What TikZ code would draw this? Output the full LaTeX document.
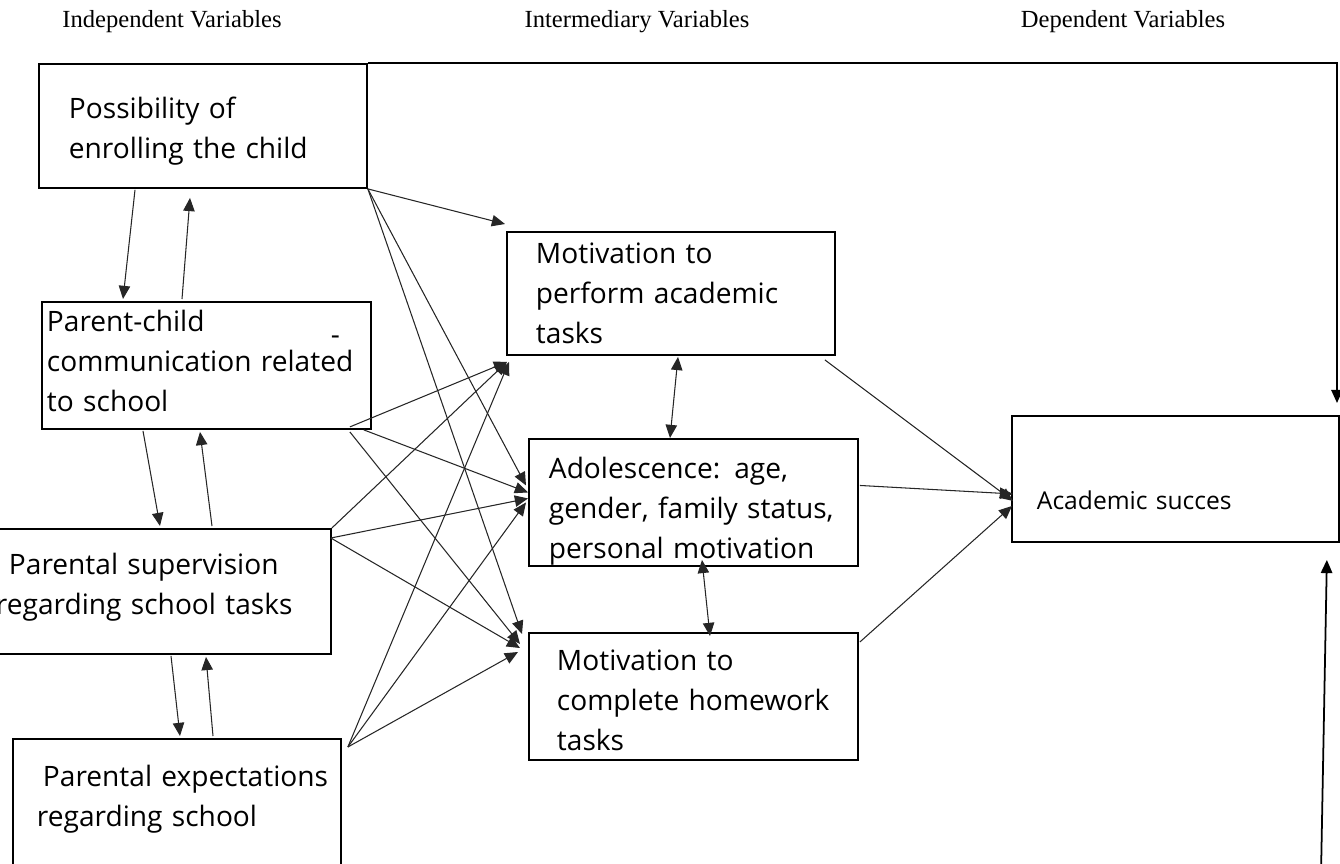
\documentclass[tikz,border=0pt]{standalone}
\usepackage{fontspec}
\setmainfont{Open Sans}
\newfontfamily\kopffont{Liberation Serif}
\usetikzlibrary{arrows.meta,calc}

\tikzset{
    kasten/.style={draw, line width=1.1pt, rectangle, anchor=north west, inner ysep=0pt,
        align=left, font=\fontsize{16pt}{22.76pt}\selectfont},
    titel/.style={font=\kopffont\fontsize{14pt}{16pt}\selectfont},
    pfeil/.style={-{Triangle[length=7.5pt,width=6.5pt]}, line width=0.6pt, black!85},
    doppel/.style={pfeil, {Triangle[length=7.5pt,width=6.5pt]}-{Triangle[length=7.5pt,width=6.5pt]}},
    rueck/.style={-{Triangle[length=7.5pt,width=6.5pt]}, line width=1pt}
}

\begin{document}
\begin{tikzpicture}[x=0.02cm, y=-0.02cm]
    \useasboundingbox (0,0) rectangle (1340,863);
    \path node[titel] (IV) at (172,22) {Independent Variables}
        node[titel] (MV) at (637,22) {Intermediary Variables}
        node[titel] (DV) at (1123,22) {Dependent Variables}
        node[kasten, text width=5.36cm, inner xsep=0.6cm, text height=1.1cm, text depth=1.38cm] (P) at (38,63)
            {Possibility of\\enrolling the child}
        node[kasten, text width=6.38cm, inner xsep=0.1cm, text height=0.6cm, text depth=1.94cm] (C) at (41,301)
            {Parent-child\hfill\mbox{\raisebox{-0.26cm}{-}\hspace{0.52cm}}\\communication~related\\to school}
        node[kasten, text width=5.84cm, inner xsep=0.6cm, text height=0.92cm, text depth=1.58cm] (S) at (-22,528)
            {Parental supervision\\\hspace*{-0.26cm}regarding~school~tasks}
        node[kasten, text width=5.6cm, inner xsep=0.48cm, text height=0.96cm, text depth=2.28cm] (E) at (12,738)
            {\hspace*{0.12cm}\mbox{Parental expectations}\\regarding school}
        node[kasten, text width=5.4cm, inner xsep=0.58cm, text height=0.64cm, text depth=1.82cm] (MA) at (506,231)
            {Motivation to\\perform~academic\\tasks}
        node[kasten, text width=5.78cm, inner xsep=0.4cm, text height=0.8cm, text depth=1.74cm] (AD) at (528,438)
            {Adolescence:\,\ age,\\gender,~family~status,\\personal~motivation}
        node[kasten, text width=5.46cm, inner xsep=0.56cm, text height=0.76cm, text depth=1.78cm] (MH) at (528,632)
            {Motivation to\\complete~homework\\tasks}
        node[kasten, text width=5.54cm, inner xsep=0.5cm, text height=1.88cm, text depth=0.64cm,
            font=\fontsize{14pt}{16pt}\selectfont] (AS) at (1011,415) {Academic succes};
    \coordinate (rein) at (1337,403);
    \coordinate (raus) at (1321,875);
    \draw[pfeil] ($(P.south west)+(97,1)$) -- ($(C.north west)+(82,-2)$);
    \draw[pfeil] ($(C.north west)+(141,-2)$) -- ($(P.south west)+(152,9)$);
    \draw[pfeil] ($(C.south west)+(102,1)$) -- ($(S.north west)+(182,-2)$);
    \draw[pfeil] ($(S.north west)+(234,-2)$) -- ($(C.south west)+(159,2)$);
    \draw[pfeil] ($(S.south west)+(193,1)$) -- ($(E.north west)+(168,-2)$);
    \draw[pfeil] ($(E.north west)+(201,-2)$) -- ($(S.south west)+(228,2)$);
    \draw[pfeil] (P.south east) -- ($(MA.north west)+(-1,-7)$);
    \draw[pfeil] (P.south east) -- ($(AD.west)+(-2,-17)$);
    \draw[pfeil] (P.south east) -- ($(MH.north west)+(-6,2)$);
    \draw[pfeil] ($(C.south east)+(-22,-3)$) -- ($(MA.south west)+(1,6)$);
    \draw[pfeil] ($(C.south east)+(-8,0)$) -- ($(AD.west)+(0,-10)$);
    \draw[pfeil] ($(C.south east)+(-22,2)$) -- ($(MH.north west)+(-8,12)$);
    \draw[pfeil] (S.north east) -- ($(MA.south west)+(1,6)$);
    \draw[pfeil] ($(S.north east)+(-1,10)$) -- ($(AD.west)+(0,-4)$);
    \draw[pfeil] ($(S.north east)+(-1,10)$) -- ($(MH.north west)+(-8,16)$);
    \draw[pfeil] ($(E.north east)+(6,9)$) -- ($(MA.south west)+(3,6)$);
    \draw[pfeil] ($(E.north east)+(6,9)$) -- ($(AD.west)+(-2,0)$);
    \draw[pfeil] ($(E.north east)+(6,9)$) -- ($(MH.north west)+(-10,20)$);
    \draw[doppel] ($(MA.south west)+(172,1)$) -- ($(AD.north west)+(142,0)$);
    \draw[doppel] ($(AD.south west)+(174,-7)$) -- ($(MH.north west)+(182,4)$);
    \draw[pfeil] ($(MA.south east)+(-11,4)$) -- ($(AS.west)+(2,22)$);
    \draw[pfeil] ($(AD.east)+(1,-17)$) -- ($(AS.west)+(2,15)$);
    \draw[pfeil] ($(MH.north east)+(1,10)$) -- ($(AS.west)+(1,27)$);
    \draw[rueck] (P.north east) -| (rein);
    \draw[rueck] (raus) -- ($(AS.south east)+(-13,17)$);
\end{tikzpicture}
\end{document}
